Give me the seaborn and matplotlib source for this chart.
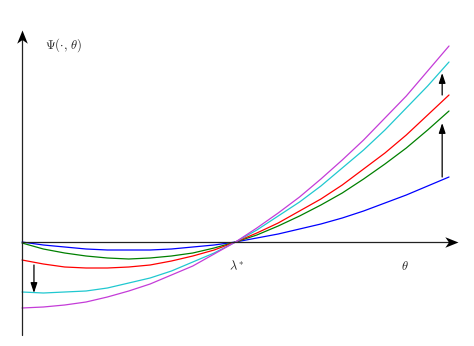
import pandas as pd
import matplotlib.pyplot as plt
import seaborn as sns
from matplotlib.path import Path

# values (theta scaled to 0..1, Psi in arbitrary units)
theta = [0.0, 0.05, 0.1, 0.15, 0.2, 0.25, 0.3, 0.35, 0.4, 0.45, 0.5,
         0.55, 0.6, 0.65, 0.7, 0.75, 0.8, 0.85, 0.9, 0.95, 1.0]
psi_blue = [0.0, -0.03, -0.05, -0.07, -0.08, -0.08, -0.08, -0.07, -0.05, -0.03, 0.0,
            0.04, 0.08, 0.13, 0.18, 0.24, 0.31, 0.39, 0.47, 0.56, 0.65]
psi_green = [-0.01, -0.07, -0.11, -0.14, -0.16, -0.17, -0.16, -0.14, -0.11, -0.06, 0.0,
             0.07, 0.16, 0.26, 0.37, 0.49, 0.63, 0.78, 0.94, 1.12, 1.31]
psi_red = [-0.18, -0.22, -0.25, -0.26, -0.26, -0.25, -0.23, -0.19, -0.14, -0.08, 0.0,
           0.09, 0.19, 0.31, 0.43, 0.57, 0.73, 0.89, 1.07, 1.27, 1.47]
psi_cyan = [-0.50, -0.51, -0.50, -0.49, -0.46, -0.41, -0.36, -0.29, -0.20, -0.11, 0.0,
            0.12, 0.26, 0.40, 0.56, 0.74, 0.92, 1.12, 1.34, 1.56, 1.80]
psi_magenta = [-0.66, -0.65, -0.63, -0.60, -0.55, -0.49, -0.42, -0.33, -0.24, -0.12, 0.0,
               0.14, 0.29, 0.45, 0.63, 0.82, 1.02, 1.24, 1.46, 1.71, 1.96]

curve_names = ['blue', 'green', 'red', 'cyan', 'magenta']
curve_colors = ['#0000ff', '#008000', '#ff0000', '#20c8d0', '#c43cd8']

# arrows showing how the curves move (x, y_start, y_end)
arrows = [(0.028, -0.23, -0.51), (0.984, 0.65, 1.19), (0.984, 1.47, 1.69)]

rows = []
for name, vals in zip(curve_names, [psi_blue, psi_green, psi_red, psi_cyan, psi_magenta]):
    for t, v in zip(theta, vals):
        rows.append({'theta': t, 'psi': v, 'curve': name})
df = pd.DataFrame(rows)

sns.set_style('white')
plt.rcParams['mathtext.fontset'] = 'cm'

fig = plt.figure(figsize=(4.74, 3.46), dpi=100)
ax = fig.add_axes([0, 0, 1, 1])

sns.lineplot(data=df, x='theta', y='psi', hue='curve', palette=dict(zip(curve_names, curve_colors)),
             linewidth=0.9, legend=False, ax=ax)

# coordinate axes with stealth-style arrow heads
x_tip, y_tip = 1.021, 2.12
stealth_right = Path([(0, 0), (-1, 0.4), (-0.72, 0), (-1, -0.4), (0, 0)],
                     [Path.MOVETO, Path.LINETO, Path.LINETO, Path.LINETO, Path.CLOSEPOLY])
stealth_up = Path([(0, 0), (0.4, -1), (0, -0.72), (-0.4, -1), (0, 0)],
                  [Path.MOVETO, Path.LINETO, Path.LINETO, Path.LINETO, Path.CLOSEPOLY])
ax.plot([0, x_tip - 0.02], [0, 0], color='#222222', lw=0.9)
ax.plot([0, 0], [-0.93, y_tip - 0.08], color='#222222', lw=0.9)
ax.plot([x_tip], [0], marker=stealth_right, markersize=19, color='black', mew=0)
ax.plot([0], [y_tip], marker=stealth_up, markersize=19, color='black', mew=0)

arrow_style = dict(arrowstyle='-|>,head_length=0.6,head_width=0.2', color='black', lw=0.9,
                   shrinkA=0, shrinkB=0)
for x, y0, y1 in arrows:
    ax.annotate('', xy=(x, y1), xytext=(x, y0), arrowprops=arrow_style)

ax.text(0.053, 1.97, r'$\Psi(\cdot,\,\theta)$', fontsize=9, ha='left', va='center')
ax.text(0.503, -0.25, r'$\lambda^{*}$', fontsize=9, ha='center', va='center')
ax.text(0.897, -0.25, r'$\theta$', fontsize=9, ha='center', va='center')

ax.set_xlim(-22 / 427, 452 / 427)
ax.set_ylim(-1.04, 2.42)
ax.axis('off')

plt.savefig('out.png', dpi=100)
plt.close()
